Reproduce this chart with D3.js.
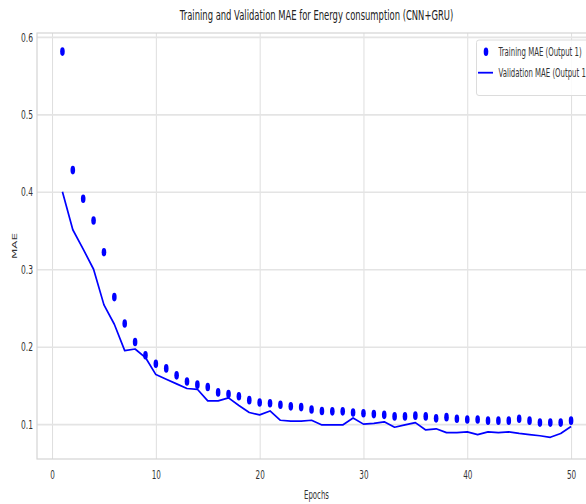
<!DOCTYPE html>
<html>
<head>
<meta charset="utf-8">
<script src="https://cdn.jsdelivr.net/npm/d3@7"></script>
<style>
  body { margin: 0; background: #fff; }
  svg { display: block; font-family: "DejaVu Sans", sans-serif; }
</style>
</head>
<body>
<div id="chart"></div>
<script>
// values, epochs 1..50
var epochs = d3.range(1, 51);
var trainMae = [0.581, 0.428, 0.391, 0.363, 0.322, 0.264, 0.230, 0.206, 0.189, 0.178,
                0.172, 0.163, 0.155, 0.151, 0.148, 0.141, 0.139, 0.136, 0.131, 0.128,
                0.127, 0.125, 0.123, 0.122, 0.119, 0.117, 0.1165, 0.1165, 0.115, 0.114,
                0.113, 0.112, 0.110, 0.110, 0.111, 0.110, 0.1075, 0.109, 0.107, 0.106,
                0.106, 0.1045, 0.1045, 0.1045, 0.107, 0.1045, 0.102, 0.102, 0.102, 0.1045];
var valMae = [0.400, 0.351, 0.326, 0.300, 0.254, 0.229, 0.195, 0.197, 0.186, 0.164,
              0.158, 0.152, 0.146, 0.145, 0.130, 0.130, 0.134, 0.124, 0.115, 0.112,
              0.117, 0.105, 0.104, 0.104, 0.105, 0.099, 0.099, 0.099, 0.108, 0.100,
              0.101, 0.103, 0.096, 0.099, 0.102, 0.0925, 0.094, 0.089, 0.089, 0.090,
              0.0865, 0.090, 0.089, 0.090, 0.088, 0.0865, 0.085, 0.083, 0.088, 0.097];
var xTicks = [0, 10, 20, 30, 40, 50];
var yTicks = [0.1, 0.2, 0.3, 0.4, 0.5, 0.6];
var titleText = 'Training and Validation MAE for Energy consumption (CNN+GRU)';
var legendLabels = ['Training MAE (Output 1)', 'Validation MAE (Output 1)'];

(function() {
    'use strict';
    var width = 586, height = 504;
    var plotL = 37, plotR = 596.5, plotT = 33, plotB = 459;
    var sx = 0.58; // the picture is squeezed sideways, text too
    var blue = '#0000ff';

    var svg = d3.select('#chart').append('svg')
        .attr('width', width)
        .attr('height', height);

    var x = d3.scaleLinear().domain([-1.45, 52.45]).range([plotL, plotR]);
    var y = d3.scaleLinear().domain([0.055, 0.605]).range([plotB, plotT]);

    // grid
    svg.append('g')
        .attr('transform', 'translate(0,' + plotB + ')')
        .call(d3.axisBottom(x).tickValues(xTicks).tickSize(-(plotB - plotT)).tickFormat(''))
        .call(function(g) {
            g.select('.domain').remove();
            g.selectAll('line').attr('stroke', '#dedede').attr('stroke-width', 1);
        });
    svg.append('g')
        .attr('transform', 'translate(' + plotL + ',0)')
        .call(d3.axisLeft(y).tickValues(yTicks).tickSize(-(plotR - plotL)).tickFormat(''))
        .call(function(g) {
            g.select('.domain').remove();
            g.selectAll('line').attr('stroke', '#e4e4e4').attr('stroke-width', 1.6);
        });

    // frame
    svg.append('rect')
        .attr('x', plotL).attr('y', plotT)
        .attr('width', plotR - plotL).attr('height', plotB - plotT)
        .attr('fill', 'none').attr('stroke', '#d4d4d4').attr('stroke-width', 1.2);

    // tick labels
    svg.append('g')
        .attr('transform', 'translate(0,' + plotB + ')')
        .call(d3.axisBottom(x).tickValues(xTicks).tickSize(0).tickPadding(11).tickFormat(d3.format('d')))
        .call(function(g) {
            g.select('.domain').remove();
            g.selectAll('text')
                .attr('font-size', 12.5).attr('fill', '#333')
                .attr('font-family', 'DejaVu Sans')
                .attr('transform', 'scale(' + sx + ',1)');
        });
    svg.append('g')
        .attr('transform', 'translate(' + plotL + ',0)')
        .call(d3.axisLeft(y).tickValues(yTicks).tickSize(0).tickFormat(d3.format('.1f')))
        .call(function(g) {
            g.select('.domain').remove();
            g.selectAll('text')
                .attr('font-size', 13).attr('fill', '#333')
                .attr('font-family', 'DejaVu Sans')
                .attr('x', -4 / sx)
                .attr('transform', 'scale(' + sx + ',1)');
        });

    // validation line
    var line = d3.line()
        .x(function(d, i) { return x(epochs[i]); })
        .y(function(d) { return y(d); });
    svg.append('path')
        .datum(valMae)
        .attr('d', line)
        .attr('fill', 'none')
        .attr('stroke', blue)
        .attr('stroke-width', 1.7)
        .attr('stroke-linejoin', 'round');

    // training dots
    svg.append('g').selectAll('ellipse')
        .data(trainMae)
        .join('ellipse')
        .attr('cx', function(d, i) { return x(epochs[i]); })
        .attr('cy', function(d) { return y(d); })
        .attr('rx', 2.3)
        .attr('ry', 4.3)
        .attr('fill', blue);

    // text helper: squeeze sideways around its anchor
    function label(txt, px, py, size, anchor) {
        return svg.append('text')
            .attr('transform', 'translate(' + px + ',' + py + ') scale(' + sx + ',1)')
            .attr('text-anchor', anchor)
            .attr('font-size', size)
            .attr('fill', '#222')
            .text(txt);
    }

    label(titleText, 316.5, 19.5, 14.5, 'middle');
    label('Epochs', 316.5, 499, 12, 'middle').attr('fill', '#333');
    svg.append('text')
        .attr('transform', 'translate(17,246) scale(' + sx + ',1) rotate(-90)')
        .attr('text-anchor', 'middle')
        .attr('font-size', 12)
        .attr('fill', '#333')
        .text('MAE');

    // legend
    var lg = svg.append('g');
    lg.append('rect')
        .attr('x', 476.5).attr('y', 40)
        .attr('width', 130).attr('height', 55.5)
        .attr('rx', 2.5)
        .attr('fill', '#fff').attr('fill-opacity', 0.85)
        .attr('stroke', '#dcdcdc').attr('stroke-width', 1);
    lg.append('ellipse')
        .attr('cx', 486).attr('cy', 51.7)
        .attr('rx', 2.3).attr('ry', 4.3)
        .attr('fill', blue);
    lg.append('line')
        .attr('x1', 478).attr('x2', 493)
        .attr('y1', 72.7).attr('y2', 72.7)
        .attr('stroke', blue).attr('stroke-width', 1.8);
    legendLabels.forEach(function(s, i) {
        label(s, 498.5, [55.5, 77][i], 12, 'start').attr('fill', '#333');
    });
})();
</script>
</body>
</html>
